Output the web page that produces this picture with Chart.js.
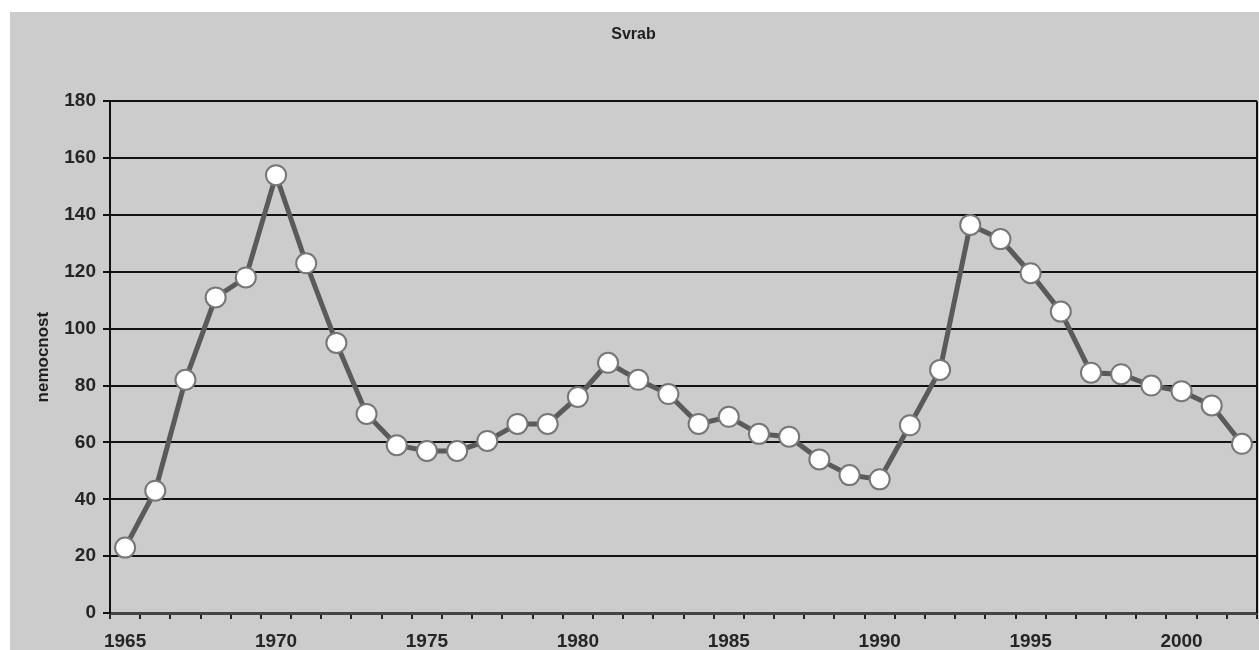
<!DOCTYPE html>
<html>
<head>
<meta charset="utf-8">
<script src="https://cdn.jsdelivr.net/npm/chart.js@4"></script>
<style>
  body { margin: 0; background: #fff; }
  #wrap { position: absolute; left: 10px; top: 12px; width: 1249px; height: 638px; background: #cccccc; }
</style>
</head>
<body>
<div id="wrap"><canvas id="chartSvrab" width="1249" height="638"></canvas></div>
<script>
/* data */
const roky = ["1965","1966","1967","1968","1969","1970","1971","1972","1973","1974",
              "1975","1976","1977","1978","1979","1980","1981","1982","1983","1984",
              "1985","1986","1987","1988","1989","1990","1991","1992","1993","1994",
              "1995","1996","1997","1998","1999","2000","2001","2002"];
const nemocnost = [23, 43, 82, 111, 118, 154, 123, 95, 70, 59,
                   57, 57, 60.5, 66.5, 66.5, 76, 88, 82, 77, 66.5,
                   69, 63, 62, 54, 48.5, 47, 66, 85.5, 136.5, 131.5,
                   119.5, 106, 84.5, 84, 80, 78, 73, 59.5];
const yMin = 0, yMax = 180, yStep = 20;

const fontTick = { family: "'Liberation Sans', Arial, sans-serif", size: 19, weight: "bold" };

// prava hrana grafu
const pravaHrana = {
    id: "pravaHrana",
    afterDatasetsDraw(chart) {
        const a = chart.chartArea, ctx = chart.ctx;
        ctx.save();
        ctx.strokeStyle = "#111";
        ctx.lineWidth = 2;
        ctx.beginPath();
        ctx.moveTo(a.right, a.top);
        ctx.lineTo(a.right, a.bottom);
        ctx.stroke();
        ctx.restore();
    }
};

new Chart(document.getElementById("chartSvrab"), {
    type: "line",
    data: {
        labels: roky,
        datasets: [{
            data: nemocnost,
            borderColor: "#5a5a5a",
            borderWidth: 5,
            pointRadius: 10,
            pointBackgroundColor: "#ffffff",
            pointBorderColor: "#777777",
            pointBorderWidth: 2,
            tension: 0,
            clip: false
        }]
    },
    options: {
        responsive: false,
        animation: false,
        layout: { autoPadding: false, padding: { left: 0, right: 2, top: 0, bottom: 0 } },
        plugins: {
            legend: { display: false },
            tooltip: { enabled: false },
            title: {
                display: true,
                text: "Svrab",
                color: "#1e1e1e",
                font: { family: "'Liberation Sans', Arial, sans-serif", size: 16, weight: "bold" },
                padding: { top: 13, bottom: 57 }
            }
        },
        scales: {
            x: {
                offset: true,
                grid: { offset: true, drawOnChartArea: false, drawTicks: true, tickLength: 6, color: "#222", lineWidth: 2 },
                border: { color: "#444", width: 3 },
                ticks: {
                    autoSkip: false,
                    maxRotation: 0,
                    padding: 11,
                    color: "#252525",
                    font: fontTick,
                    callback: function (v, i) { return Number(roky[i]) % 5 === 0 ? roky[i] : ""; }
                },
                afterFit: function (s) { s.height = 37; }
            },
            y: {
                min: yMin,
                max: yMax,
                grid: { color: "#111", lineWidth: 2, tickLength: 7 },
                border: { color: "#111", width: 2 },
                ticks: { stepSize: yStep, padding: 7, color: "#252525", font: fontTick },
                title: {
                    display: true,
                    text: "nemocnost",
                    color: "#1e1e1e",
                    font: { family: "'Liberation Sans', Arial, sans-serif", size: 17, weight: "bold" },
                    padding: { top: 23, bottom: 0 }
                },
                afterFit: function (s) { s.width = 100; }
            }
        }
    },
    plugins: [pravaHrana]
});
</script>
</body>
</html>
